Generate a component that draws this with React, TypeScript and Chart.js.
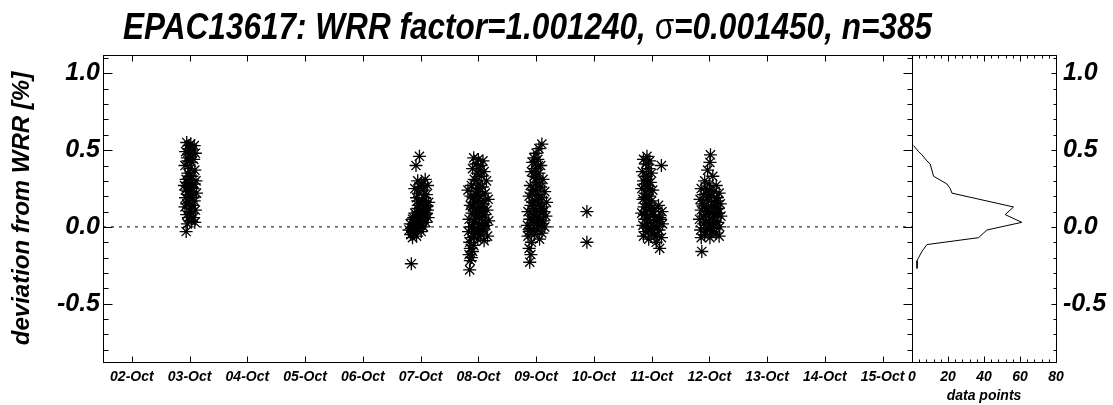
import React, { useEffect, useRef } from 'react';
import { Chart, registerables } from 'chart.js';

Chart.register(...registerables);

// ---------- data ----------
const titleLead = 'EPAC13617: WRR factor=1.001240, ';
const titleSigma = 'σ';
const titleTail = '=0.001450, n=385';
const yAxisTitle = 'deviation from WRR [%]';
const histAxisTitle = 'data points';

const dayTicks = [2, 3, 4, 5, 6, 7, 8, 9, 10, 11, 12, 13, 14, 15];
const dayLabels = ['02-Oct', '03-Oct', '04-Oct', '05-Oct', '06-Oct', '07-Oct', '08-Oct', '09-Oct', '10-Oct', '11-Oct', '12-Oct', '13-Oct', '14-Oct', '15-Oct'];
const devTicks = [-0.8, -0.7, -0.6, -0.5, -0.4, -0.3, -0.2, -0.1, 0.0, 0.1, 0.2, 0.3, 0.4, 0.5, 0.6, 0.7, 0.8, 0.9, 1.0, 1.1];
const devLabelTicks = [-0.5, 0.0, 0.5, 1.0];
const countTicks = [0, 20, 40, 60, 80];
const countMinorTicks = [0, 4, 8, 12, 16, 20, 24, 28, 32, 36, 40, 44, 48, 52, 56, 60, 64, 68, 72, 76, 80];

const dayRange = [1.5, 15.51];
const devRange = [-0.88, 1.12];
const countRange = [0, 80];

// [day of October, deviation %]
const oct03: number[][] = [
  [2.95, 0.55], [3.02, 0.54], [3.08, 0.53], [2.98, 0.51], [3.05, 0.50], [2.93, 0.49], [3.10, 0.48], [3.00, 0.47],
  [2.96, 0.45], [3.07, 0.44], [3.03, 0.42], [2.92, 0.40], [3.09, 0.37], [2.97, 0.35], [3.04, 0.33], [2.94, 0.31],
  [3.11, 0.30], [3.00, 0.28], [2.91, 0.27], [3.06, 0.25], [2.97, 0.23], [3.12, 0.22], [3.02, 0.20], [2.93, 0.19],
  [3.08, 0.17], [2.99, 0.16], [3.05, 0.14], [2.92, 0.13], [3.10, 0.11], [3.01, 0.10], [2.95, 0.08], [3.07, 0.06],
  [3.03, 0.04], [2.96, 0.02], [3.09, 0.03], [2.94, -0.03], [2.99, 0.53], [3.04, 0.48], [2.97, 0.43], [3.01, 0.38],
  [2.96, 0.29], [3.03, 0.26], [2.99, 0.21], [3.06, 0.19], [2.95, 0.15], [3.02, 0.12], [2.98, 0.06], [3.04, 0.09],
  [3.00, 0.33], [2.93, 0.24], [3.08, 0.28],
];
const oct07: number[][] = [
  [6.98, 0.46], [6.92, 0.40], [7.08, 0.31], [6.95, 0.30], [7.02, 0.28], [7.12, 0.27], [6.90, 0.25], [7.05, 0.24],
  [6.97, 0.22], [7.10, 0.21], [6.93, 0.19], [7.04, 0.17], [7.14, 0.16], [7.00, 0.15], [7.09, 0.13], [6.95, 0.12],
  [7.12, 0.11], [7.03, 0.10], [6.90, 0.09], [7.07, 0.08], [6.98, 0.07], [7.13, 0.06], [6.86, 0.05], [7.02, 0.05],
  [6.94, 0.04], [7.09, 0.03], [6.82, 0.02], [6.99, 0.02], [6.89, 0.01], [7.05, 0.00], [6.84, -0.01], [6.95, -0.01],
  [6.80, -0.02], [7.01, -0.03], [6.88, -0.04], [6.83, -0.05], [6.93, -0.06], [6.86, -0.07], [6.84, -0.24],
  [6.92, 0.07], [7.06, 0.12], [6.88, 0.06], [6.97, 0.10], [7.10, 0.09], [6.91, 0.03], [7.00, 0.01], [6.86, -0.03],
  [6.96, 0.14], [7.07, 0.19], [6.99, 0.26], [7.03, 0.04], [6.92, -0.02], [7.11, 0.14], [6.95, 0.17],
];
const oct08: number[][] = [
  [7.92, 0.45], [8.00, 0.44], [8.08, 0.43], [7.96, 0.41], [8.04, 0.40], [7.90, 0.38], [8.10, 0.36], [7.98, 0.35],
  [8.05, 0.33], [7.93, 0.31], [8.14, 0.30], [8.01, 0.28], [7.88, 0.27], [8.07, 0.26], [7.82, 0.24], [7.97, 0.23],
  [8.12, 0.22], [8.03, 0.20], [7.91, 0.19], [8.17, 0.18], [7.99, 0.17], [8.09, 0.15], [7.86, 0.14], [8.05, 0.13],
  [7.95, 0.12], [8.15, 0.11], [8.01, 0.10], [7.89, 0.09], [8.11, 0.08], [7.97, 0.07], [8.06, 0.06], [7.84, 0.05],
  [8.18, 0.04], [7.93, 0.03], [8.02, 0.02], [8.13, 0.01], [7.88, 0.00], [7.98, -0.01], [8.08, -0.02], [7.83, -0.03],
  [7.94, -0.04], [8.04, -0.05], [8.16, -0.06], [7.87, -0.07], [7.99, -0.08], [8.10, -0.09], [7.85, -0.10], [7.92, -0.12],
  [7.86, -0.14], [7.90, -0.16], [7.84, -0.18], [7.88, -0.20], [7.86, -0.22], [7.85, -0.28],
  [7.95, 0.05], [8.03, 0.09], [7.90, 0.13], [8.10, 0.17], [7.98, 0.21], [8.06, 0.10], [7.92, -0.06], [8.01, -0.03],
  [7.87, 0.20], [8.12, 0.03], [7.96, 0.30], [8.03, 0.37], [7.94, 0.16], [8.08, -0.01], [7.90, 0.00], [8.00, 0.25],
];
const oct09: number[][] = [
  [9.10, 0.54], [9.05, 0.51], [9.00, 0.48], [8.96, 0.45], [9.03, 0.44], [8.94, 0.42], [9.08, 0.40], [8.99, 0.38],
  [8.92, 0.36], [9.05, 0.35], [8.97, 0.33], [9.12, 0.31], [9.01, 0.29], [8.90, 0.27], [9.08, 0.26], [8.95, 0.24],
  [9.15, 0.23], [9.03, 0.21], [8.88, 0.20], [9.10, 0.19], [8.98, 0.17], [9.18, 0.16], [9.05, 0.15], [8.91, 0.14],
  [9.12, 0.13], [9.00, 0.11], [8.86, 0.10], [9.08, 0.09], [8.95, 0.08], [9.17, 0.07], [9.02, 0.06], [8.89, 0.05],
  [9.12, 0.04], [8.97, 0.03], [9.06, 0.02], [8.85, 0.01], [9.15, 0.00], [8.93, -0.01], [9.03, -0.02], [8.88, -0.03],
  [9.10, -0.04], [8.97, -0.05], [8.86, -0.06], [9.06, -0.08], [8.92, -0.10], [8.88, -0.14], [8.91, -0.18], [8.89, -0.23],
  [9.01, 0.02], [8.93, 0.05], [9.09, 0.12], [8.96, 0.12], [9.04, 0.18], [8.93, 0.22], [9.06, 0.28], [8.97, 0.07],
  [9.13, 0.10], [8.90, -0.02], [9.00, 0.32], [9.04, 0.40], [8.99, 0.24], [9.10, 0.02], [8.94, 0.16],
];
const oct10: number[][] = [[9.88, 0.10], [9.88, -0.10]];
const oct11: number[][] = [
  [10.92, 0.46], [10.86, 0.44], [10.97, 0.43], [11.17, 0.40], [10.90, 0.41], [10.95, 0.38], [10.84, 0.36], [11.00, 0.35],
  [10.91, 0.33], [10.86, 0.30], [10.98, 0.29], [10.93, 0.27], [10.83, 0.25], [11.02, 0.24], [10.89, 0.22], [10.96, 0.20],
  [10.85, 0.18], [11.00, 0.17], [10.92, 0.15], [11.12, 0.14], [10.87, 0.13], [11.06, 0.12], [10.97, 0.11], [11.18, 0.10],
  [10.83, 0.09], [11.03, 0.08], [10.93, 0.07], [11.14, 0.06], [10.88, 0.05], [11.08, 0.04], [10.98, 0.03], [11.19, 0.02],
  [10.85, 0.01], [11.04, 0.00], [10.94, -0.01], [11.13, -0.02], [10.89, -0.03], [11.00, -0.04], [11.10, -0.05], [10.86, -0.06],
  [11.17, -0.07], [10.95, -0.08], [11.08, -0.10], [11.14, -0.14],
  [10.90, 0.10], [10.95, 0.14], [10.88, 0.19], [11.05, 0.06], [10.92, 0.02], [11.10, 0.00], [10.96, 0.24], [10.89, 0.28],
  [11.01, 0.10], [11.15, 0.05], [10.93, 0.31], [10.99, -0.02], [11.06, -0.06], [10.88, 0.08],
];
const oct12: number[][] = [
  [12.02, 0.47], [12.01, 0.42], [11.97, 0.37], [12.06, 0.33], [11.92, 0.30], [12.00, 0.28], [12.12, 0.27], [11.86, 0.25],
  [11.96, 0.24], [12.08, 0.23], [12.17, 0.22], [11.90, 0.21], [12.03, 0.20], [12.13, 0.19], [11.84, 0.18], [11.98, 0.17],
  [12.09, 0.16], [12.19, 0.15], [11.92, 0.14], [12.04, 0.13], [12.15, 0.12], [11.86, 0.11], [12.00, 0.10], [12.11, 0.09],
  [11.94, 0.08], [12.20, 0.07], [12.06, 0.06], [11.83, 0.05], [11.99, 0.04], [12.14, 0.03], [11.90, 0.02], [12.08, 0.01],
  [12.18, 0.00], [11.96, -0.01], [11.85, -0.02], [12.04, -0.03], [12.12, -0.04], [11.92, -0.05], [12.17, -0.06], [11.86, -0.07],
  [12.01, -0.07], [11.87, -0.16],
  [11.95, 0.12], [12.05, 0.09], [11.90, 0.07], [12.10, 0.13], [11.98, 0.20], [12.14, 0.17], [11.88, 0.15], [12.02, 0.02],
  [12.07, -0.01], [11.93, 0.03], [12.16, 0.09], [12.00, 0.24], [11.94, -0.03], [12.10, 0.04],
];

// histogram: deviation bin vs number of points
const histBins = [0.53, 0.49, 0.47, 0.43, 0.41, 0.33, 0.28, 0.25, 0.22, 0.13, 0.08, 0.03, -0.02, -0.07, -0.115, -0.16, -0.20, -0.22, -0.27];
const histCounts = [0.9, 3.7, 5.5, 8.3, 10.1, 12, 19.4, 21.2, 22.2, 56.4, 51.8, 61, 41.6, 37, 8.3, 5.5, 3.7, 2.8, 2.8];

// ---------- styling / layout ----------
const W = 1113;
const H = 405;
const FONT = '"Liberation Sans", Arial, Helvetica, sans-serif';
const PLOT_TOP = 55;
const PLOT_LEFT = 103;
const PLOT_RIGHT = 912;
const HIST_RIGHT = 1056;
const XAXIS_H = 43;
const HIST_CANVAS_X = 880;

const isMajorDev = (v: number) => Math.abs(v * 2 - Math.round(v * 2)) < 1e-6;
const isMajorCount = (v: number) => Math.abs(v / 20 - Math.round(v / 20)) < 1e-6;

function line(ctx: CanvasRenderingContext2D, x1: number, y1: number, x2: number, y2: number) {
  ctx.beginPath();
  ctx.moveTo(x1, y1);
  ctx.lineTo(x2, y2);
  ctx.stroke();
}

const mainFramePlugin = {
  id: 'mainFrame',
  afterDraw(chart: any) {
    const { ctx, chartArea: a, scales } = chart;
    const ys = scales.y;
    const xs = scales.x;
    const L = Math.round(a.left) + 0.5;
    const R = Math.round(a.right) + 0.5;
    const T = Math.round(a.top) + 0.5;
    const B = Math.round(a.bottom) + 0.5;
    ctx.save();
    ctx.strokeStyle = '#000';
    ctx.lineWidth = 1;
    ctx.strokeRect(L, T, R - L, B - T);
    devTicks.forEach((v) => {
      const y = Math.round(ys.getPixelForValue(v)) + 0.5;
      const len = isMajorDev(v) ? 9 : 5;
      line(ctx, L, y, L + len, y);
      line(ctx, R, y, R - len, y);
    });
    dayTicks.forEach((d) => {
      const x = Math.round(xs.getPixelForValue(d)) + 0.5;
      line(ctx, x, B, x, B - 6);
      line(ctx, x, T, x, T + 6);
    });
    // title
    const fb = `italic bold 36px ${FONT}`;
    const fs = `36px ${FONT}`;
    ctx.font = fb;
    const w1 = ctx.measureText(titleLead).width;
    const w3 = ctx.measureText(titleTail).width;
    ctx.font = fs;
    const w2 = ctx.measureText(titleSigma).width;
    const s = 809 / (w1 + w2 + w3);
    ctx.translate(123, 39);
    ctx.scale(s, 1);
    ctx.fillStyle = '#000';
    ctx.textBaseline = 'alphabetic';
    ctx.textAlign = 'left';
    ctx.font = fb;
    ctx.fillText(titleLead, 0, 0);
    ctx.font = fs;
    ctx.fillText(titleSigma, w1, 0);
    ctx.font = fb;
    ctx.fillText(titleTail, w1 + w2, 0);
    ctx.restore();
  },
};

const histFramePlugin = {
  id: 'histFrame',
  afterDraw(chart: any) {
    const { ctx, chartArea: a, scales } = chart;
    const ys = scales.y;
    const xs = scales.x;
    const L = Math.round(a.left) + 0.5;
    const R = Math.round(a.right) + 0.5;
    const T = Math.round(a.top) + 0.5;
    const B = Math.round(a.bottom) + 0.5;
    ctx.save();
    ctx.strokeStyle = '#000';
    ctx.lineWidth = 1;
    ctx.strokeRect(L, T, R - L, B - T);
    devTicks.forEach((v) => {
      const y = Math.round(ys.getPixelForValue(v)) + 0.5;
      const len = isMajorDev(v) ? 5 : 3;
      line(ctx, R, y, R - len, y);
    });
    countMinorTicks.forEach((c) => {
      const x = Math.round(xs.getPixelForValue(c)) + 0.5;
      const len = isMajorCount(c) ? 6 : 3;
      line(ctx, x, B, x, B - len);
      line(ctx, x, T, x, T + len);
    });
    ctx.restore();
  },
};

const toPoints = (arr: number[][]) => arr.map(([x, y]) => ({ x, y }));

export default function App() {
  const mainRef = useRef<HTMLCanvasElement>(null);
  const histRef = useRef<HTMLCanvasElement>(null);

  useEffect(() => {
    const tickFont = { family: FONT, size: 25, weight: 'bold' as const, style: 'italic' as const };
    const titleFont = { family: FONT, size: 24, weight: 'bold' as const, style: 'italic' as const };
    const smallFont = { family: FONT, size: 14, weight: 'bold' as const, style: 'italic' as const };
    const noGrid = { display: false, drawTicks: false };

    const allPoints = [...oct03, ...oct07, ...oct08, ...oct09, ...oct10, ...oct11, ...oct12];

    const main = new Chart(mainRef.current!, {
      type: 'scatter',
      data: {
        datasets: [
          {
            data: [
              { x: dayRange[0], y: 0 },
              { x: dayRange[1], y: 0 },
            ],
            showLine: true,
            borderColor: '#000',
            borderWidth: 1,
            borderDash: [3, 5],
            pointRadius: 0,
          } as any,
          {
            data: toPoints(allPoints),
            pointStyle: 'star',
            pointRadius: 6.5,
            borderColor: '#000',
            backgroundColor: '#000',
            pointBorderWidth: 1.3,
            showLine: false,
          } as any,
        ],
      },
      options: {
        animation: false,
        responsive: false,
        devicePixelRatio: 1,
        layout: { padding: { left: 0, top: PLOT_TOP, right: W - PLOT_RIGHT, bottom: 0 } },
        plugins: { legend: { display: false }, tooltip: { enabled: false }, title: { display: false } },
        scales: {
          x: {
            type: 'linear',
            min: dayRange[0],
            max: dayRange[1],
            grid: noGrid,
            border: { display: false },
            afterBuildTicks: (s: any) => {
              s.ticks = dayTicks.map((v) => ({ value: v }));
            },
            afterFit: (s: any) => {
              s.height = XAXIS_H;
            },
            ticks: {
              autoSkip: false,
              maxRotation: 0,
              minRotation: 0,
              padding: 7,
              color: '#000',
              font: smallFont,
              callback: (v: any) => {
                const i = dayTicks.indexOf(Number(v));
                return i >= 0 ? dayLabels[i] : '';
              },
            },
          },
          y: {
            type: 'linear',
            min: devRange[0],
            max: devRange[1],
            grid: noGrid,
            border: { display: false },
            afterBuildTicks: (s: any) => {
              s.ticks = devTicks.map((v) => ({ value: v }));
            },
            afterFit: (s: any) => {
              s.width = PLOT_LEFT;
            },
            ticks: {
              autoSkip: false,
              padding: 3,
              color: '#000',
              font: tickFont,
              callback: (v: any) => {
                const n = Number(v);
                return devLabelTicks.some((t) => Math.abs(t - n) < 1e-6) ? n.toFixed(1) : '';
              },
            },
            title: {
              display: true,
              text: yAxisTitle,
              color: '#000',
              font: titleFont,
              padding: { top: 8, bottom: 0 },
            },
          },
        },
      } as any,
      plugins: [mainFramePlugin],
    });

    const hist = new Chart(histRef.current!, {
      type: 'scatter',
      data: {
        datasets: [
          {
            data: histBins.map((b, i) => ({ x: histCounts[i], y: b })),
            showLine: true,
            borderColor: '#000',
            borderWidth: 1,
            pointRadius: 0,
            tension: 0,
          } as any,
        ],
      },
      options: {
        animation: false,
        responsive: false,
        devicePixelRatio: 1,
        layout: { padding: { left: PLOT_RIGHT - HIST_CANVAS_X, top: PLOT_TOP, right: 0, bottom: 0 } },
        plugins: { legend: { display: false }, tooltip: { enabled: false }, title: { display: false } },
        scales: {
          x: {
            type: 'linear',
            min: countRange[0],
            max: countRange[1],
            grid: noGrid,
            border: { display: false },
            afterBuildTicks: (s: any) => {
              s.ticks = countTicks.map((v) => ({ value: v }));
            },
            afterFit: (s: any) => {
              s.height = XAXIS_H;
            },
            ticks: {
              autoSkip: false,
              maxRotation: 0,
              minRotation: 0,
              padding: 7,
              color: '#000',
              font: smallFont,
              callback: (v: any) => String(v),
            },
            title: {
              display: true,
              text: histAxisTitle,
              color: '#000',
              font: smallFont,
              padding: { top: 0, bottom: 0 },
            },
          },
          y: {
            type: 'linear',
            position: 'right',
            min: devRange[0],
            max: devRange[1],
            grid: noGrid,
            border: { display: false },
            afterBuildTicks: (s: any) => {
              s.ticks = devTicks.map((v) => ({ value: v }));
            },
            afterFit: (s: any) => {
              s.width = W - HIST_RIGHT;
            },
            ticks: {
              autoSkip: false,
              padding: 7,
              color: '#000',
              font: tickFont,
              callback: (v: any) => {
                const n = Number(v);
                return devLabelTicks.some((t) => Math.abs(t - n) < 1e-6) ? n.toFixed(1) : '';
              },
            },
          },
        },
      } as any,
      plugins: [histFramePlugin],
    });

    return () => {
      main.destroy();
      hist.destroy();
    };
  }, []);

  return (
    <div style={{ position: 'fixed', left: 0, top: 0, width: W, height: H, background: '#fff' }}>
      <canvas
        ref={mainRef}
        width={W}
        height={H}
        style={{ position: 'absolute', left: 0, top: 0, width: W, height: H }}
      />
      <canvas
        ref={histRef}
        width={W - HIST_CANVAS_X}
        height={H}
        style={{ position: 'absolute', left: HIST_CANVAS_X, top: 0, width: W - HIST_CANVAS_X, height: H }}
      />
    </div>
  );
}
